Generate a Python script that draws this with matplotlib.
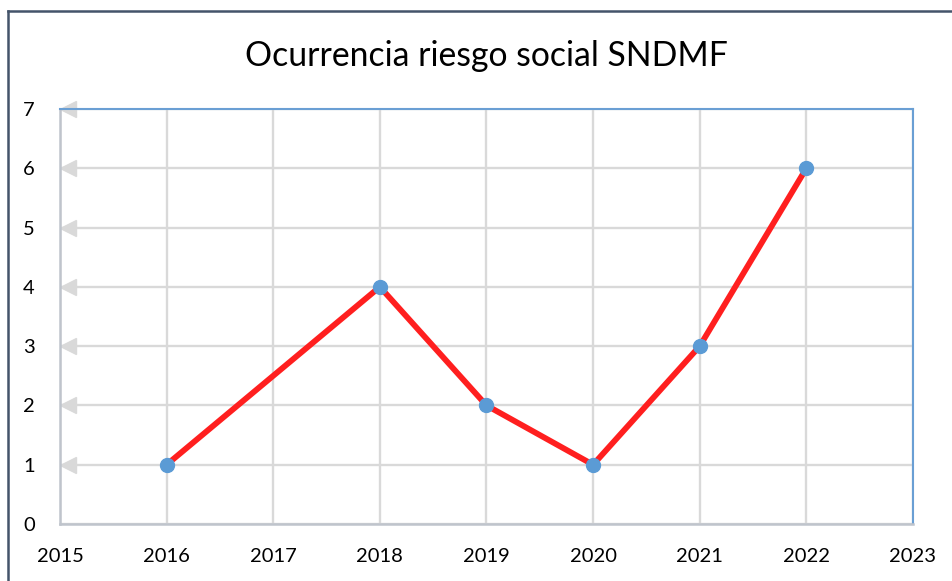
import numpy as np
import matplotlib.pyplot as plt
import matplotlib.transforms as mtransforms
from matplotlib.lines import Line2D

years = [2016, 2018, 2019, 2020, 2021, 2022]
counts = [1, 4, 2, 1, 3, 6]
x_ticks = list(range(2015, 2024))
y_ticks = list(range(0, 8))
title = "Ocurrencia riesgo social SNDMF"

plt.rcParams['font.family'] = ['Lato', 'DejaVu Sans']

fig = plt.figure(figsize=(9.52, 5.81), dpi=100)
ax = fig.add_axes([0.063, 0.0981, 0.896, 0.7143])

ax.set_xlim(2015, 2023)
ax.set_ylim(0, 7)
ax.set_xticks(x_ticks)
ax.set_yticks(y_ticks)
ax.grid(True, color='#D9D9D9', linewidth=1.7)
ax.set_axisbelow(True)
ax.tick_params(length=0, labelsize=14.5, colors='black')
ax.tick_params(axis='y', pad=18)
ax.tick_params(axis='x', pad=17)

for side in ['left', 'bottom']:
    ax.spines[side].set_color('#BFC4CC')
    ax.spines[side].set_linewidth(1.8)
for side in ['top', 'right']:
    ax.spines[side].set_color('#6A9FD4')
    ax.spines[side].set_linewidth(1.5)

# little grey arrowheads on the y ticks
offset = mtransforms.ScaledTranslation(6 / 72, 0, fig.dpi_scale_trans)
ax.plot(np.full(len(y_ticks) - 1, 2015), y_ticks[1:], linestyle='none',
        marker='<', markersize=11, color='#D9D9D9', clip_on=False,
        transform=ax.transData + offset, zorder=2)

ax.plot(years, counts, color='#FF1F1F', linewidth=4.2, zorder=3,
        marker='o', markersize=10, markerfacecolor='#5B9BD5',
        markeredgecolor='#5B9BD5', clip_on=False)

fig.text(0.511, 0.903, title, ha='center', va='center', fontsize=24.3)

# outer frame of the chart area
frame_c = '#44546A'
fig.add_artist(Line2D([7.5 / 952, 7.5 / 952], [0, 1 - 10.5 / 581],
                      color=frame_c, linewidth=1.8))
fig.add_artist(Line2D([7.5 / 952, 1], [1 - 10.5 / 581, 1 - 10.5 / 581],
                      color=frame_c, linewidth=1.8))

fig.savefig('out.png', dpi=100)
